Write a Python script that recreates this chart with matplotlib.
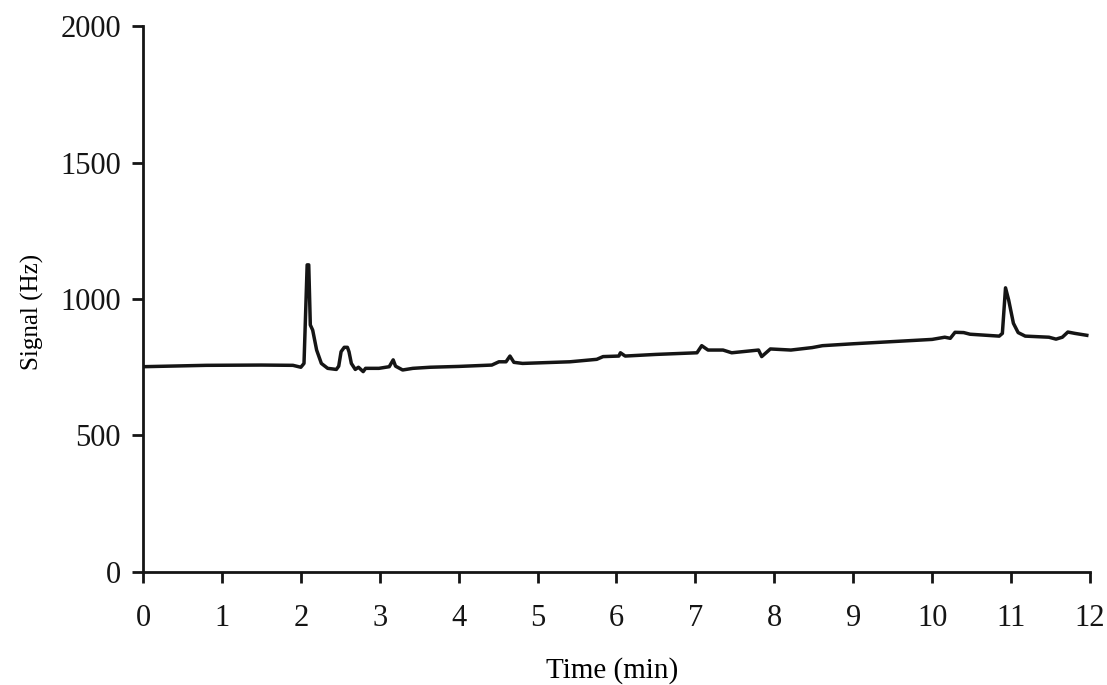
import matplotlib.pyplot as plt

# chromatogram trace
time_min = [0.00, 0.80, 1.50, 1.90, 2.00, 2.04, 2.08, 2.10, 2.12, 2.15, 2.20,
            2.26, 2.34, 2.45, 2.48, 2.51, 2.55, 2.59, 2.61, 2.64, 2.69, 2.73,
            2.79, 2.82, 2.99, 3.12, 3.17, 3.20, 3.29, 3.42, 3.64, 4.00, 4.42,
            4.51, 4.60, 4.65, 4.70, 4.81, 5.41, 5.75, 5.83, 6.03, 6.05, 6.11,
            6.50, 7.02, 7.08, 7.16, 7.35, 7.46, 7.80, 7.84, 7.95, 8.21, 8.48,
            8.61, 9.00, 9.69, 10.00, 10.16, 10.23, 10.29, 10.40, 10.48, 10.85,
            10.89, 10.93, 10.97, 11.03, 11.09, 11.18, 11.48, 11.57, 11.65,
            11.72, 11.81, 11.96]
signal_hz = [752, 757, 758, 757, 750, 764, 1125, 1125, 905, 886, 813,
             764, 746, 742, 754, 807, 823, 823, 807, 764, 742, 750,
             734, 746, 746, 752, 777, 754, 740, 746, 750, 753, 758,
             770, 770, 791, 768, 764, 770, 779, 789, 791, 803, 791,
             797, 803, 829, 813, 813, 803, 813, 789, 817, 813, 822,
             829, 836, 847, 852, 860, 856, 878, 877, 871, 864,
             874, 1041, 996, 911, 877, 864, 860, 853, 860,
             879, 874, 867]

x_ticks = list(range(0, 13))
y_ticks = [0, 500, 1000, 1500, 2000]

plt.rcParams["font.family"] = ["Liberation Serif", "DejaVu Serif"]
ink = "#151515"

fig = plt.figure(figsize=(11.07, 6.85), dpi=100)
ax = fig.add_axes([0.1292, 0.165, 0.8554, 0.797])

ax.plot(time_min, signal_hz, color=ink, linewidth=2.5)

ax.set_xlim(0, 12)
ax.set_ylim(0, 2000)
ax.set_xticks(x_ticks)
ax.set_yticks(y_ticks)
ax.tick_params(direction="out", length=8, width=2, labelsize=22, colors=ink)
ax.tick_params(axis="x", pad=15)
ax.tick_params(axis="y", pad=8)

for side in ("top", "right"):
    ax.spines[side].set_visible(False)
for side in ("left", "bottom"):
    ax.spines[side].set_linewidth(2)
    ax.spines[side].set_color(ink)

ax.set_xlabel("Time (min)", fontsize=21)
ax.set_ylabel("Signal (Hz)", fontsize=18)
ax.xaxis.set_label_coords(0.495, -0.155)
ax.yaxis.set_label_coords(-0.105, 0.476)

fig.savefig("out.png", dpi=100)
